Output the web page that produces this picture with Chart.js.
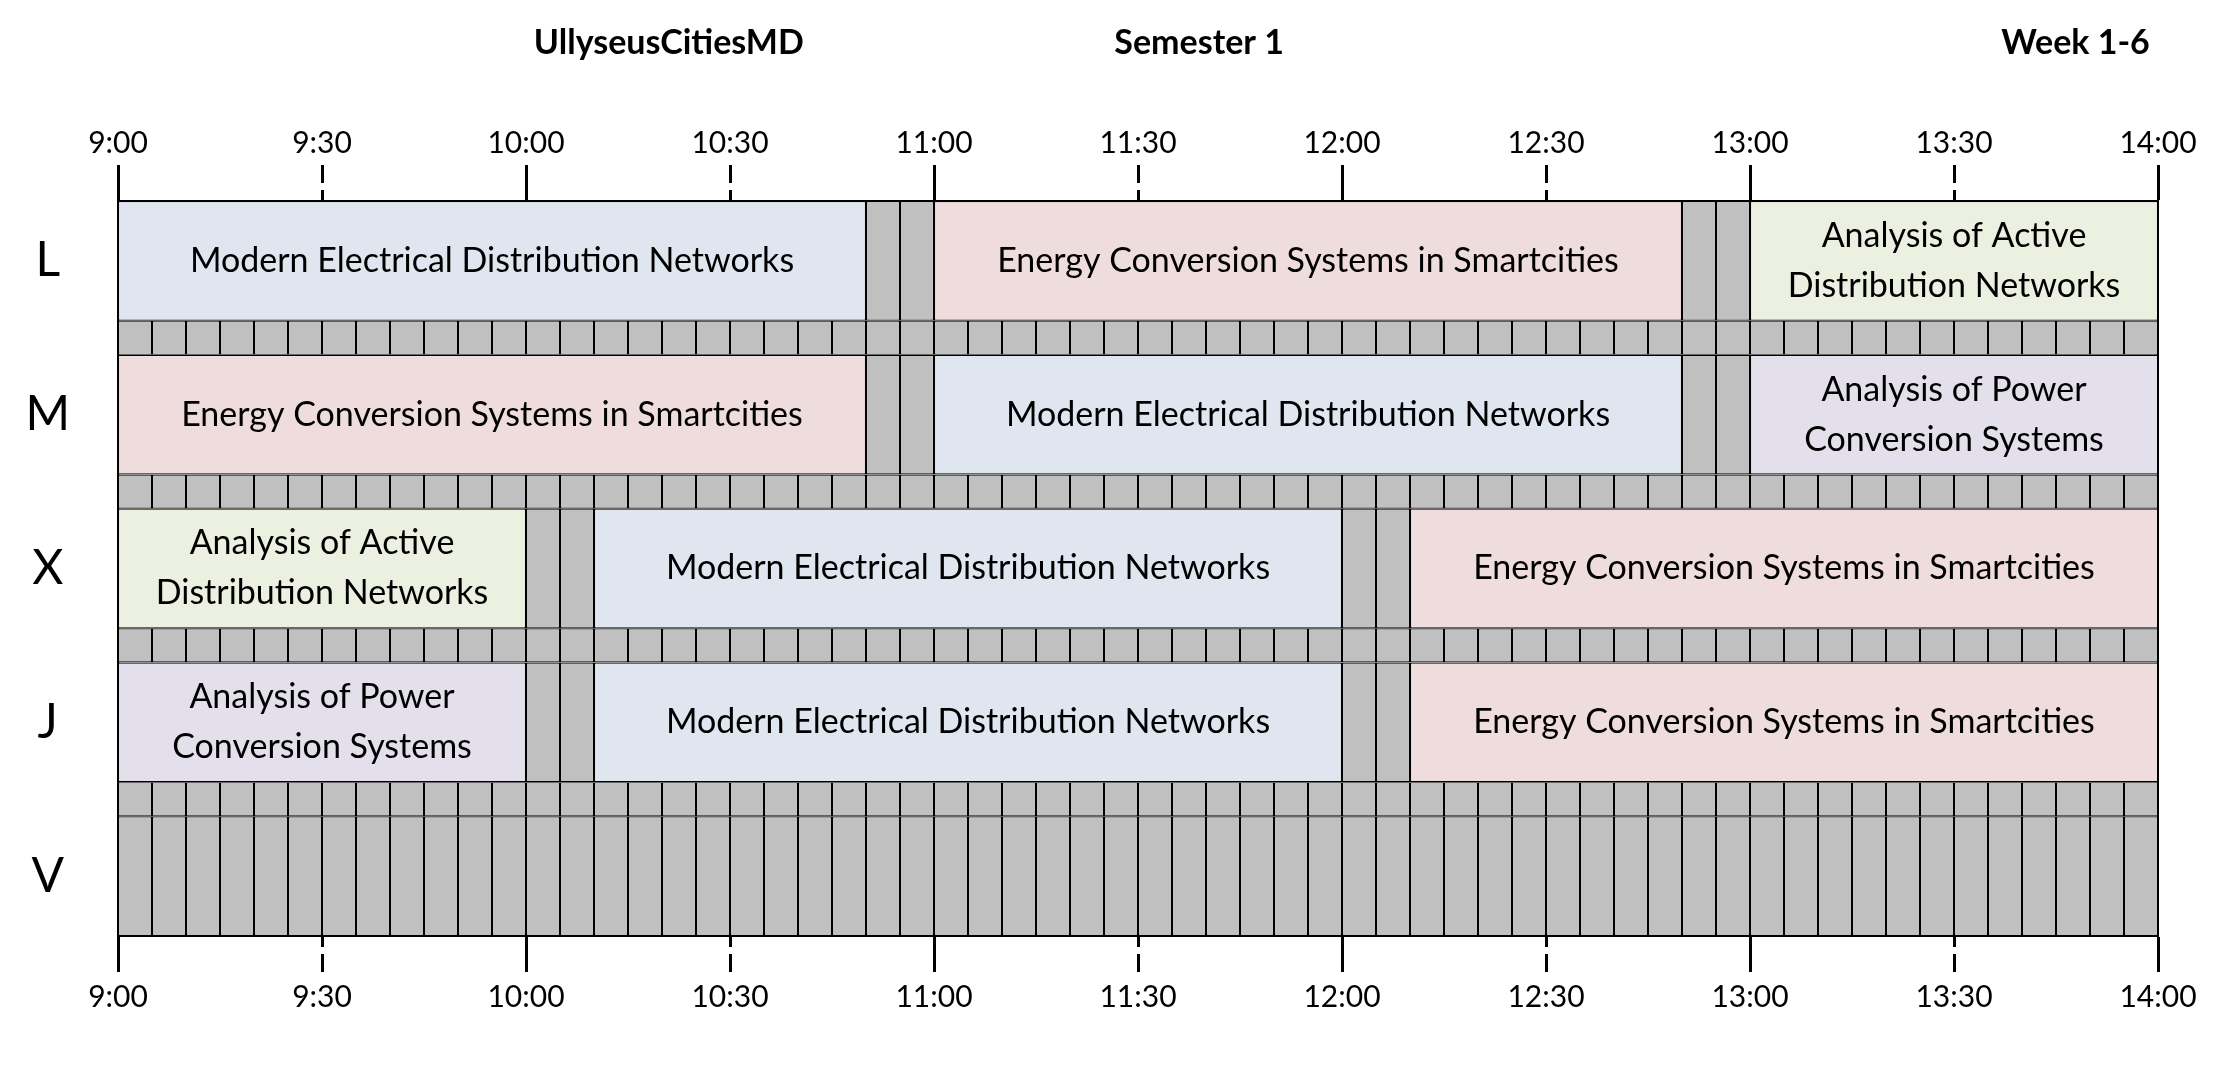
<!DOCTYPE html>
<html>
<head>
<meta charset="utf-8">
<script src="https://cdn.jsdelivr.net/npm/chart.js@4/dist/chart.umd.min.js"></script>
<style>
  html, body { margin: 0; padding: 0; background: #fff; }
  canvas { display: block; }
</style>
</head>
<body>
<canvas id="timetable" width="2218" height="1074"></canvas>
<script>
// header texts
var headerTexts = ['UllyseusCitiesMD', 'Semester 1', 'Week 1-6'];

// days (rows) and time range
var days = ['L', 'M', 'X', 'J', 'V'];
var dayStart = '9:00', dayEnd = '14:00';
var slotMinutes = 5, tickMinutes = 30;

// courses
var courses = [
    'Modern Electrical Distribution Networks',
    'Energy Conversion Systems in Smartcities',
    'Analysis of Active Distribution Networks',
    'Analysis of Power Conversion Systems'
];
var courseWrapped = [
    ['Modern Electrical', 'Distribution Networks'],
    ['Energy Conversion', 'Systems in Smartcities'],
    ['Analysis of Active', 'Distribution Networks'],
    ['Analysis of Power', 'Conversion Systems']
];
var courseColors = ['#dfe6ef', '#efdddd', '#ecf0e1', '#e3e0eb'];
var freeColor = '#c0c0c0';

// sessions
var sessionDay    = [0, 0, 0, 1, 1, 1, 2, 2, 2, 3, 3, 3];
var sessionStart  = ['9:00', '11:00', '13:00', '9:00', '11:00', '13:00', '9:00', '10:10', '12:10', '9:00', '10:10', '12:10'];
var sessionEnd    = ['10:50', '12:50', '14:00', '10:50', '12:50', '14:00', '10:00', '12:00', '14:00', '10:00', '12:00', '14:00'];
var sessionCourse = [0, 1, 2, 1, 0, 3, 2, 0, 1, 3, 0, 1];

function toMin(t){
    var p = t.split(':');
    return parseInt(p[0], 10) * 60 + parseInt(p[1], 10);
}
function toLabel(m){
    var mm = m % 60;
    return Math.floor(m / 60) + ':' + (mm < 10 ? '0' + mm : mm);
}

// row geometry in y units: lesson row, then a thin break strip
var ROW = 3.5, GAP = 1, PITCH = ROW + GAP;
var SPACING = ROW / 2 + GAP / 2;
function rowCenter(d){ return d * PITCH + ROW / 2; }
function stripCenter(d){ return d * PITCH + ROW + GAP / 2; }

var tMin = toMin(dayStart), tMax = toMin(dayEnd);
var LINE = 1.2;

// lesson datasets
var datasets = [];
for(var c = 0; c < courses.length; c++){
    var pts = [];
    for(var s = 0; s < sessionDay.length; s++){
        if(sessionCourse[s] === c){
            pts.push({x: [toMin(sessionStart[s]), toMin(sessionEnd[s])], y: rowCenter(sessionDay[s])});
        }
    }
    datasets.push({
        label: courses[c],
        course: c,
        data: pts,
        backgroundColor: courseColors[c],
        borderColor: '#000',
        borderWidth: LINE,
        borderSkipped: false,
        inflateAmount: 0,
        categoryPercentage: 1,
        barPercentage: ROW / SPACING
    });
}

// free slots in lesson rows (breaks and the empty day)
var freeCells = [], stripCells = [];
for(var d = 0; d < days.length; d++){
    for(var t = tMin; t < tMax; t += slotMinutes){
        var busy = false;
        for(var s = 0; s < sessionDay.length; s++){
            if(sessionDay[s] === d && t >= toMin(sessionStart[s]) && t < toMin(sessionEnd[s])) busy = true;
        }
        if(!busy) freeCells.push({x: [t, t + slotMinutes], y: rowCenter(d)});
        if(d < days.length - 1) stripCells.push({x: [t, t + slotMinutes], y: stripCenter(d)});
    }
}
datasets.push({
    label: 'free',
    data: freeCells,
    backgroundColor: freeColor,
    borderColor: '#000',
    borderWidth: LINE,
    borderSkipped: false,
    inflateAmount: 0,
    categoryPercentage: 1,
    barPercentage: ROW / SPACING
});
datasets.push({
    label: 'strip',
    data: stripCells,
    backgroundColor: freeColor,
    borderColor: '#000',
    borderWidth: LINE,
    borderSkipped: false,
    inflateAmount: 0,
    categoryPercentage: 1,
    barPercentage: GAP / SPACING
});

var FONT = 'Lato';

// course names inside the bars
var lessonLabels = {
    id: 'lessonLabels',
    afterDatasetsDraw: function(chart){
        var ctx = chart.ctx;
        ctx.save();
        ctx.font = '34px ' + FONT;
        ctx.fillStyle = '#000';
        ctx.textAlign = 'center';
        ctx.textBaseline = 'middle';
        chart.data.datasets.forEach(function(ds, i){
            if(ds.course === undefined) return;
            chart.getDatasetMeta(i).data.forEach(function(el){
                var p = el.getProps(['x', 'base', 'y'], true);
                var w = Math.abs(p.x - p.base);
                var cx = (p.x + p.base) / 2;
                var lines = [courses[ds.course]];
                if(ctx.measureText(lines[0]).width > w - 30) lines = courseWrapped[ds.course];
                var lh = 50;
                lines.forEach(function(line, k){
                    ctx.fillText(line, cx, p.y + (k - (lines.length - 1) / 2) * lh);
                });
            });
        });
        ctx.restore();
    }
};

// header line above the top axis
var headerPos = [0.27, 0.53, 0.996];
var headerAlign = ['center', 'center', 'right'];
var header = {
    id: 'header',
    afterDraw: function(chart){
        var ctx = chart.ctx, a = chart.chartArea;
        ctx.save();
        ctx.font = 'bold 34px ' + FONT;
        ctx.fillStyle = '#000';
        ctx.textBaseline = 'alphabetic';
        headerTexts.forEach(function(txt, i){
            ctx.textAlign = headerAlign[i];
            ctx.fillText(txt, a.left + headerPos[i] * (a.right - a.left), 54);
        });
        ctx.restore();
    }
};

function timeAxis(position, labelPad, dashOffset, size){
    return {
        type: 'linear',
        position: position,
        min: tMin,
        max: tMax,
        afterFit: function(s){ s.height = size; },
        ticks: {
            stepSize: tickMinutes,
            maxRotation: 0,
            autoSkip: false,
            padding: labelPad,
            color: '#000',
            font: {family: FONT, size: 30},
            callback: function(v){ return toLabel(v); }
        },
        grid: {
            display: true,
            drawOnChartArea: false,
            drawTicks: true,
            tickLength: 36,
            tickWidth: 3,
            tickColor: '#000',
            tickBorderDash: function(c){ return c.tick && c.tick.value % 60 === 0 ? [] : [18, 7]; },
            tickBorderDashOffset: dashOffset
        },
        border: {display: true, color: '#000', width: 2}
    };
}

new Chart(document.getElementById('timetable').getContext('2d'), {
    type: 'bar',
    data: {datasets: datasets},
    options: {
        indexAxis: 'y',
        responsive: false,
        devicePixelRatio: 1,
        animation: false,
        grouped: false,
        layout: {padding: {top: 100, right: 60, bottom: 40, left: 0}},
        plugins: {
            legend: {display: false},
            tooltip: {enabled: false},
            title: {display: false}
        },
        scales: {
            x: timeAxis('top', 4, 0, 101),
            x2: timeAxis('bottom', 7, 8, 98),
            y: {
                type: 'linear',
                position: 'left',
                reverse: true,
                offset: false,
                min: 0,
                max: days.length * PITCH - GAP,
                afterFit: function(s){ s.width = 118; },
                afterBuildTicks: function(s){
                    s.ticks = days.map(function(d, i){ return {value: rowCenter(i)}; });
                },
                ticks: {
                    crossAlign: 'center',
                    padding: 48,
                    color: '#000',
                    font: {family: FONT, size: 48},
                    callback: function(v, i){ return days[i]; }
                },
                grid: {display: false, drawTicks: false, offset: false},
                border: {display: true, color: '#000', width: 2}
            },
            y2: {
                type: 'linear',
                position: 'right',
                offset: false,
                min: 0,
                max: days.length * PITCH - GAP,
                afterFit: function(s){ s.width = 0; },
                ticks: {display: false},
                grid: {display: false, drawTicks: false},
                border: {display: true, color: '#000', width: 2}
            }
        }
    },
    plugins: [lessonLabels, header]
});
</script>
</body>
</html>
